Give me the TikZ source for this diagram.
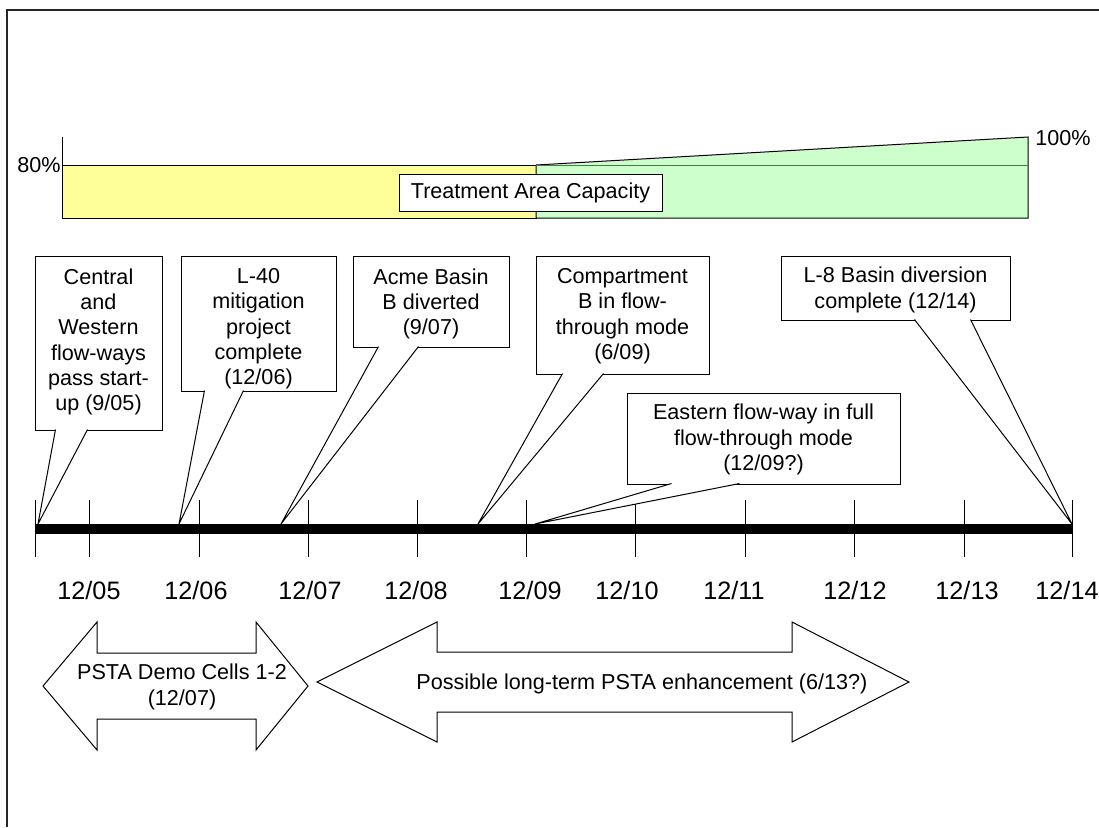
\documentclass[tikz,border=0pt]{standalone}
\usepackage{fontspec}
\setmainfont{Liberation Sans}
\usetikzlibrary{positioning,calc}

\definecolor{capyellow}{HTML}{FFFF99}
\definecolor{capgreen}{HTML}{CCFFCC}

\begin{document}
\begin{tikzpicture}[x=0.5pt,y=-0.5pt,
    callbox/.style={draw,fill=white,line width=0.5pt,inner sep=0pt},
    calltext/.style={align=center,inner sep=0pt,font=\fontsize{10.8}{12.65}\selectfont},
    arrowtext/.style={align=center,inner sep=0pt,font=\fontsize{10.8}{12.8}\selectfont},
    callpointer/.style={draw,fill=white,line width=0.5pt},
    tickline/.style={line width=0.5pt},
    yearlabel/.style={inner sep=0pt,font=\fontsize{12.6}{15}\selectfont},
    bigarrow/.style={draw,fill=white,line width=0.5pt}]
        \useasboundingbox[fill=white] (0,0) rectangle (1099,827);
        \draw[line width=1pt,black!85] (7,827) -- (7,10) -- (1099,10);

        % capacity bar
        \draw[line width=0.5pt,fill=capyellow] (62,165) rectangle (536,218);
        \draw[line width=0.5pt,fill=capgreen] (536,165) -- (1028,137) -- (1028,218) -- (536,218) -- cycle;
        \draw[line width=0.5pt,black!60] (536,165) -- (1028,165);
        \draw[line width=0.5pt] (62,137) -- (62,218);
        \node[calltext,anchor=east] (lowcap) at (61,165) {80\%};
        \node[calltext,anchor=west] (highcap) at (1035,138) {100\%};
        \node[callbox,calltext,minimum width=131.5pt,minimum height=18.5pt] (capacity) at (530.5,192.5) {Treatment Area Capacity};

        % time axis
        \coordinate (axisstart) at (35,529);
        \coordinate (axisend) at (1072,529);
        \draw[tickline] (35,500) -- (35,557);
        \foreach \x/\lx/\yr in {89/89/05,199/196/06,308/310/07,417/416/08,526/530/09,635/627/10,745/734/11,854/855/12,964/967/13,1072/1067/14} {
            \draw[tickline] (\x,500) -- (\x,557);
            \node[yearlabel] (year\yr) at (\lx,590) {12/\yr};
        }
        \draw[line width=5pt] (axisstart) -- (axisend);

        \coordinate (flowwaystip) at (38,524);
        \coordinate (mitigationtip) at (179,524);
        \coordinate (acmetip) at (281,524);
        \coordinate (compartmenttip) at (478,524);
        \coordinate (easterntip) at (535,524);
        \coordinate (basintip) at (1072,524);

        % milestones
        \node[callbox,minimum width=63.5pt,minimum height=87pt] (flowways) at (98.5,343) {};
        \node[callbox,minimum width=77.5pt,minimum height=67.5pt] (mitigation) at (258.5,323.5) {};
        \node[callbox,minimum width=78pt,minimum height=45.5pt] (acme) at (431,301.5) {};
        \node[callbox,minimum width=86.5pt,minimum height=59pt] (compartment) at (622.5,315) {};
        \node[callbox,minimum width=136.5pt,minimum height=45.5pt] (eastern) at (763.5,438.5) {};
        \node[callbox,minimum width=114.5pt,minimum height=32pt] (basin) at (895.5,288) {};

        \filldraw[callpointer] ($(flowways.south west)+(21,-1)$) -- (flowwaystip) -- ($(flowways.south west)+(53,-1)$);
        \filldraw[callpointer] ($(mitigation.south west)+(24,-1)$) -- (mitigationtip) -- ($(mitigation.south west)+(63,-1)$);
        \filldraw[callpointer] ($(acme.south west)+(26,-1)$) -- (acmetip) -- ($(acme.south west)+(66,-1)$);
        \filldraw[callpointer] ($(compartment.south west)+(27,-1)$) -- (compartmenttip) -- ($(compartment.south west)+(68,-1)$);
        \filldraw[callpointer] ($(eastern.south west)+(45,-1)$) -- (easterntip) -- ($(eastern.south west)+(113,-1)$);
        \filldraw[callpointer] ($(basin.south west)+(134,-1)$) -- (basintip) -- ($(basin.south west)+(190,-1)$);

        \node[calltext,below=6.3pt of flowways.north] (flowwaystext) {Central\\and\\Western\\flow-ways\\pass start-\\up (9/05)};
        \node[calltext,below=6.3pt of mitigation.north] (mitigationtext) {L-40\\mitigation\\project\\complete\\(12/06)};
        \node[calltext,below=6.3pt of acme.north] (acmetext) {Acme Basin\\B diverted\\(9/07)};
        \node[calltext,below=6.3pt of compartment.north] (compartmenttext) {Compartment\\B in flow-\\through mode\\(6/09)};
        \node[calltext,below=5.6pt of eastern.north] (easterntext) {Eastern flow-way in full\\flow-through mode\\(12/09?)};
        \node[calltext,below=5.6pt of basin.north] (basintext) {L-8 Basin diversion\\complete (12/14)};

        % periods
        \draw[bigarrow] (43,686) -- (97,622) -- (97,653) -- (256,653) -- (256,622) -- (308,686)
            -- (256,750) -- (256,719) -- (97,719) -- (97,750) -- cycle;
        \draw[bigarrow] (317,682) -- (437,622) -- (437,652) -- (792,652) -- (792,622) -- (909,682)
            -- (792,742) -- (792,712) -- (437,712) -- (437,742) -- cycle;
        \node[arrowtext] (demotext) at (182,687) {PSTA Demo Cells 1-2\\(12/07)};
        \node[arrowtext,anchor=west] (enhancetext) at (416,684) {Possible long-term PSTA enhancement (6/13?)};
\end{tikzpicture}
\end{document}
